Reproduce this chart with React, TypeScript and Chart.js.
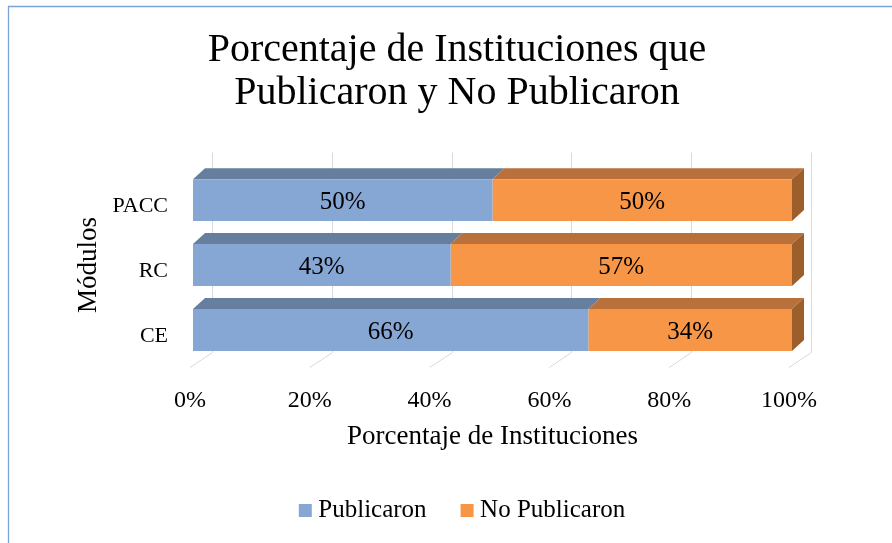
import React, { useEffect, useRef } from "react";
import { Chart, registerables } from "chart.js";

Chart.register(...registerables);

const categories = ["PACC", "RC", "CE"];
const publicaron = [50, 43, 66];
const noPublicaron = [50, 57, 34];
const xTicks = [0, 20, 40, 60, 80, 100];
const seriesNames = ["Publicaron", "No Publicaron"];
const titleLines = ["Porcentaje de Instituciones que", "Publicaron y No Publicaron"];
const xTitle = "Porcentaje de Instituciones";
const yTitle = "Módulos";

const FONT = "'Liberation Serif', 'Times New Roman', serif";
const FRONT = ["#86a7d4", "#f79646"];
const TOP = ["#667f9f", "#b9703a"];
const SIDE = ["#57708f", "#9c5f2c"];
const DX = 12;
const DY = -11;

const threeD = {
  id: "threeD",
  afterLayout(chart: any) {
    const t = chart.titleBlock;
    if (t) {
      t.left += 11;
      t.right += 11;
    }
    const lg = chart.legend;
    if (lg) {
      lg.left += 19;
      lg.right += 19;
    }
  },
  beforeDraw(chart: any) {
    const ctx = chart.ctx;
    ctx.save();
    ctx.strokeStyle = "#7da2d6";
    ctx.lineWidth = 1.3;
    ctx.beginPath();
    ctx.moveTo(8.5, chart.height);
    ctx.lineTo(8.5, 6.5);
    ctx.lineTo(chart.width, 6.5);
    ctx.stroke();
    ctx.restore();
  },
  beforeDatasetsDraw(chart: any) {
    const { ctx, chartArea } = chart;
    const xs = chart.scales.x;
    ctx.save();
    ctx.strokeStyle = "#d9d9d9";
    ctx.lineWidth = 1;
    for (const v of xTicks) {
      const xf = xs.getPixelForValue(v);
      const xb = Math.round(xf + 19) + 0.5;
      ctx.beginPath();
      ctx.moveTo(xb, chartArea.top - 15);
      ctx.lineTo(xb, chartArea.bottom - 10);
      ctx.lineTo(xf - 3, chartArea.bottom + 5);
      ctx.stroke();
    }
    const n = chart.data.datasets.length;
    for (let d = 0; d < n; d++) {
      const meta = chart.getDatasetMeta(d);
      meta.data.forEach((bar: any) => {
        const { x, y, base, height } = bar.getProps(["x", "y", "base", "height"], true);
        const top = y - height / 2;
        const bottom = y + height / 2;
        const l = Math.min(x, base);
        const r = Math.max(x, base);
        ctx.fillStyle = TOP[d];
        ctx.beginPath();
        ctx.moveTo(l, top);
        ctx.lineTo(r, top);
        ctx.lineTo(r + DX, top + DY);
        ctx.lineTo(l + DX, top + DY);
        ctx.closePath();
        ctx.fill();
        if (d === n - 1) {
          ctx.fillStyle = SIDE[d];
          ctx.beginPath();
          ctx.moveTo(r, top);
          ctx.lineTo(r + DX, top + DY);
          ctx.lineTo(r + DX, bottom + DY);
          ctx.lineTo(r, bottom);
          ctx.closePath();
          ctx.fill();
        }
      });
    }
    ctx.restore();
  },
  afterDatasetsDraw(chart: any) {
    const ctx = chart.ctx;
    ctx.save();
    ctx.font = `25px ${FONT}`;
    ctx.textAlign = "center";
    ctx.textBaseline = "middle";
    ctx.fillStyle = "#000";
    chart.data.datasets.forEach((ds: any, d: number) => {
      const meta = chart.getDatasetMeta(d);
      meta.data.forEach((bar: any, i: number) => {
        const { x, y, base } = bar.getProps(["x", "y", "base"], true);
        ctx.fillText(ds.data[i] + "%", (x + base) / 2, y + 2);
      });
    });
    ctx.restore();
  },
};

export default function App() {
  const ref = useRef<HTMLCanvasElement | null>(null);
  useEffect(() => {
    if (!ref.current) return;
    const chart = new Chart(ref.current, {
      type: "bar",
      data: {
        labels: categories,
        datasets: [
          {
            label: seriesNames[0],
            data: publicaron,
            backgroundColor: FRONT[0],
            borderWidth: 0,
            categoryPercentage: 1,
            barPercentage: 0.645,
          },
          {
            label: seriesNames[1],
            data: noPublicaron,
            backgroundColor: FRONT[1],
            borderWidth: 0,
            categoryPercentage: 1,
            barPercentage: 0.645,
          },
        ],
      },
      options: {
        indexAxis: "y",
        responsive: true,
        maintainAspectRatio: false,
        animation: false,
        events: [],
        layout: { padding: { left: 100, right: 100, top: 0, bottom: 10 } },
        scales: {
          x: {
            stacked: true,
            min: 0,
            max: 100,
            grid: { display: false },
            border: { display: false },
            ticks: {
              stepSize: 20,
              callback: (v: any) => v + "%",
              color: "#000",
              font: { family: FONT, size: 24 },
              padding: 16,
              labelOffset: -3,
              maxRotation: 0,
              autoSkip: false,
            },
            title: {
              display: true,
              text: xTitle,
              color: "#000",
              font: { family: FONT, size: 27 },
              padding: { top: 0, bottom: 5 },
            },
            afterFit: (s: any) => {
              s.height = 95.5;
            },
          },
          y: {
            stacked: true,
            grid: { display: false, drawTicks: false },
            border: { display: false },
            ticks: {
              color: "#000",
              font: { family: FONT, size: 22 },
              padding: 25,
              labelOffset: 6,
            },
            title: {
              display: true,
              text: yTitle,
              color: "#000",
              font: { family: FONT, size: 27 },
              padding: { top: -27, bottom: 0 },
            },
            afterFit: (s: any) => {
              s.width = 93;
            },
          },
        },
        plugins: {
          title: {
            display: true,
            text: titleLines,
            color: "#000",
            font: { family: FONT, size: 40, weight: "normal", lineHeight: 1.07 },
            padding: { top: 29, bottom: 53 },
          },
          legend: {
            display: true,
            position: "bottom",
            labels: {
              usePointStyle: true,
              pointStyle: "rect",
              boxWidth: 1,
              boxHeight: 13,
              color: "#000",
              font: { family: FONT, size: 25 },
              padding: 40,
            },
          },
          tooltip: { enabled: false },
        },
      } as any,
      plugins: [threeD],
    });
    return () => chart.destroy();
  }, []);
  return (
    <div style={{ position: "fixed", left: 0, top: 0, width: 892, height: 543, background: "#fff" }}>
      <canvas ref={ref} />
    </div>
  );
}
